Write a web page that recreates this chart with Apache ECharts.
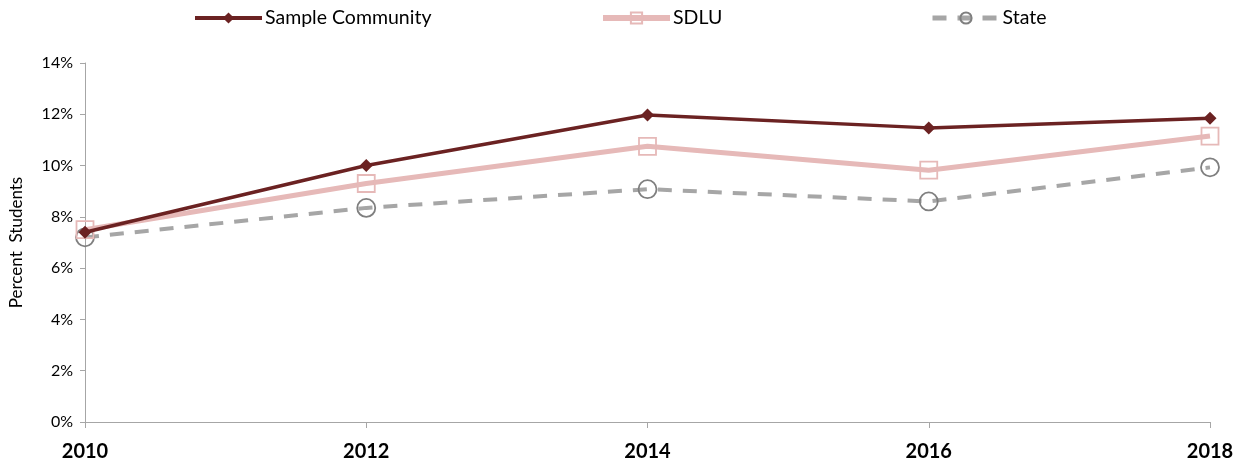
<!DOCTYPE html>
<html><head><meta charset="utf-8">
<script src="https://cdn.jsdelivr.net/npm/echarts@6/dist/echarts.min.js"></script>
<style>html,body{margin:0;padding:0;background:#fff}#c{width:1242px;height:465px}</style>
</head><body><div id="c"></div>
<script>
const years = ['2010','2012','2014','2016','2018'];
const sampleCommunity = [7.4, 10.0, 11.97, 11.47, 11.85];
const sdlu = [7.5, 9.3, 10.75, 9.82, 11.15];
const state = [7.2, 8.35, 9.08, 8.6, 9.93];
const yTicks = [0, 2, 4, 6, 8, 10, 12, 14];

const font = 'Lato';
const chart = echarts.init(document.getElementById('c'));
const legBase = {top: 3, itemWidth: 67, itemHeight: 14, itemGap: 8, textStyle: {fontFamily: font, fontSize: 19.5, color: '#000', padding: [0,0,0,-2]}};
chart.setOption({
  animation: false,
  legend: [
    Object.assign({left: 188, data: [{name: 'Sample Community', lineStyle: {width: 4}}]}, legBase),
    Object.assign({left: 595, data: [{name: 'SDLU', lineStyle: {width: 6}}]}, legBase),
    Object.assign({left: 925, data: [{name: 'State', lineStyle: {width: 5}}]}, legBase)
  ],
  grid: {left: 82, right: 32, top: 63, bottom: 43},
  xAxis: {
    type: 'category', data: years, boundaryGap: false,
    axisLine: {lineStyle: {color: '#A6A6A6', width: 1}},
    axisTick: {show: true, alignWithLabel: true, length: 6, lineStyle: {color: '#A6A6A6'}},
    axisLabel: {margin: 20, fontFamily: font, fontWeight: 'bold', fontSize: 20, color: '#000'}
  },
  yAxis: {
    type: 'value', min: 0, max: 14, interval: 2,
    name: 'Percent  Students', nameLocation: 'middle', nameGap: 60, nameRotate: 90,
    nameTextStyle: {fontFamily: font, fontSize: 17, color: '#000'},
    axisLine: {show: true, lineStyle: {color: '#A6A6A6'}},
    axisTick: {show: true, length: 5, lineStyle: {color: '#A6A6A6'}},
    splitLine: {show: false},
    axisLabel: {fontFamily: font, fontSize: 16, color: '#000', margin: 12,
      formatter: v => yTicks.includes(v) ? v + '%' : ''}
  },
  series: [
    {name: 'State', type: 'line', data: state, z: 1,
     lineStyle: {color: '#A6A6A6', width: 4, type: [14, 11]},
     symbol: 'circle', symbolSize: 18, showAllSymbol: true,
     itemStyle: {color: 'rgba(255,255,255,0)', borderColor: '#7F7F7F', borderWidth: 1.8}},
    {name: 'SDLU', type: 'line', data: sdlu, z: 2,
     lineStyle: {color: '#E6B9B8', width: 5},
     symbol: 'rect', symbolSize: 17,
     itemStyle: {color: 'rgba(255,255,255,0)', borderColor: '#E6B9B8', borderWidth: 1.8}},
    {name: 'Sample Community', type: 'line', data: sampleCommunity, z: 3,
     lineStyle: {color: '#6B2222', width: 3.5},
     symbol: 'diamond', symbolSize: 13,
     itemStyle: {color: '#6B2222', borderColor: '#6B2222', borderWidth: 0}}
  ]
});
</script></body></html>
